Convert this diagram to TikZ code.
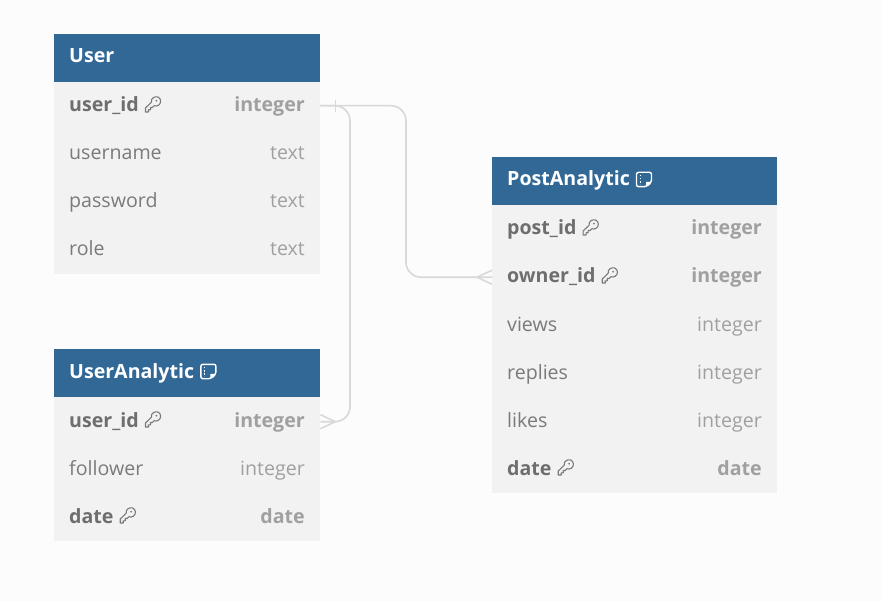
\documentclass[tikz,border=0pt]{standalone}
\usepackage{fontspec}
\setmainfont{Open Sans}
\usetikzlibrary{positioning}
\definecolor{hdr}{HTML}{316896}
\definecolor{rowbg}{HTML}{F2F2F2}
\definecolor{pagebg}{HTML}{FCFCFC}
\definecolor{namec}{HTML}{7A7A7A}
\definecolor{typec}{HTML}{A0A0A0}
\definecolor{linkc}{HTML}{D8D8D8}
\tikzset{
  x=1pt,y=-1pt,
  hbox/.style={fill=hdr,anchor=north west,inner sep=0pt,minimum height=48pt},
  rowbox/.style={fill=rowbg,anchor=north west,inner sep=0pt,minimum height=48pt},
  htext/.style={anchor=base west,inner sep=0pt,text=white,font=\fontsize{19.6pt}{22pt}\selectfont\bfseries},
  ntext/.style={anchor=base west,inner sep=0pt,text=namec,font=\fontsize{19.6pt}{22pt}\selectfont},
  btext/.style={ntext,text=namec!90!black,font=\fontsize{19.6pt}{22pt}\selectfont\bfseries},
  ttext/.style={anchor=base east,inner sep=0pt,text=typec,font=\fontsize{19.6pt}{22pt}\selectfont},
  ttextb/.style={ttext,font=\fontsize{19.6pt}{22pt}\selectfont\bfseries},
  link/.style={draw=linkc,line width=1.6pt,rounded corners=15pt},
  tick/.style={draw=linkc,line width=1.6pt},
  keyicon/.pic={
    \draw[namec,line width=1.1pt,line join=round]
      (-7.5,7.5) -- (-7.5,3.5) -- (-1.6,-2.2)
      .. controls (-2.2,-6.5) and (2,-8.5) .. (5,-7.5)
      .. controls (8.5,-6) and (8.5,-1) .. (5.5,0.8)
      .. controls (4,1.6) and (2.6,1.8) .. (1.2,1.2)
      -- (-0.5,3) -- (-2.5,3) -- (-2.5,5.3) -- (-4.5,5.3) -- (-4.5,7.5) -- cycle;
    \fill[namec] (3.4,-3.8) circle (1pt);
  },
  noteicon/.pic={
    \draw[white,line width=1.4pt,line join=round,rounded corners=2pt]
      (-7.5,-7.2) -- (7.5,-7.2) -- (7.5,2.8) -- (2.4,7.2) -- (-7.5,7.2) -- cycle;
    \fill[white] (7.2,2.4) -- (2,2.4) -- (2,7.2) -- cycle;
    \draw[white,line width=1.4pt,dash pattern=on 1.6pt off 1.6pt] (-3.8,-4.8) -- (-3.8,4.8);
  }
}
\newcommand{\tablehead}[6]{% name, x, y, width, title, extra
  \node[hbox,minimum width=#4pt] (#1) at (#2,#3) {};
  \node[htext] (#1t) at (#2+15,#3+29) {#5};
  #6
}
\newcommand{\tablerow}[7]{% name,x,y,width,nametext,typetext,keyflag
  \node[rowbox,minimum width=#4pt] (#1) at (#2,#3) {};
  \ifnum#7=1
    \node[btext] (#1n) at (#2+15,#3+30) {#5};
    \node[ttextb] (#1y) at (#2+#4-15,#3+30) {#6};
    \pic at ([xshift=14pt]#1n.base east |- #2,#3+22.5) {keyicon};
  \else
    \node[ntext] (#1n) at (#2+15,#3+30) {#5};
    \node[ttext] (#1y) at (#2+#4-15,#3+30) {#6};
  \fi
}
\begin{document}
\begin{tikzpicture}
\path[use as bounding box,fill=pagebg] (0,0) rectangle (882,601);

% User
\tablehead{user}{54}{34}{266}{User}{}
\tablerow{uid}{54}{82}{266}{user\_id}{integer}{1}
\tablerow{uname}{54}{130}{266}{username}{text}{0}
\tablerow{upass}{54}{178}{266}{password}{text}{0}
\tablerow{urole}{54}{226}{266}{role}{text}{0}

% UserAnalytic
\tablehead{ua}{54}{349}{266}{UserAnalytic}{\pic at ([xshift=14pt]uat.base east |- 0,371.5) {noteicon};}
\tablerow{uauid}{54}{397}{266}{user\_id}{integer}{1}
\tablerow{uafol}{54}{445}{266}{follower}{integer}{0}
\tablerow{uadate}{54}{493}{266}{date}{date}{1}

% PostAnalytic
\tablehead{pa}{492}{157}{285}{PostAnalytic}{\pic at ([xshift=14pt]pat.base east |- 0,179.5) {noteicon};}
\tablerow{pid}{492}{205}{285}{post\_id}{integer}{1}
\tablerow{poid}{492}{253}{285}{owner\_id}{integer}{1}
\tablerow{pview}{492}{301}{285}{views}{integer}{0}
\tablerow{prep}{492}{349}{285}{replies}{integer}{0}
\tablerow{plike}{492}{397}{285}{likes}{integer}{0}
\tablerow{pdate}{492}{445}{285}{date}{date}{1}

% connectors
\coordinate (uidE) at ([yshift=0.5pt]uid.east);
\coordinate (uaE) at ([yshift=-0.5pt]uauid.east);
\coordinate (poW) at (poid.west);
\coordinate (busA) at (406,0);
\coordinate (busB) at (350,0);
\draw[link] (uidE) -- (busA |- uidE) -- (busA |- poW) -- (poW);
\draw[link] (uidE) -- (busB |- uidE) -- (busB |- uaE) -- (uaE);
% one-side tick
\draw[tick] ([xshift=15pt,yshift=-6pt]uidE) -- ([xshift=15pt,yshift=6pt]uidE);
% crow's feet
\draw[tick] ([yshift=-7pt]uaE) -- ([xshift=15pt]uaE) -- ([yshift=7pt]uaE);
\draw[tick] ([yshift=-7pt]poW) -- ([xshift=-15pt]poW) -- ([yshift=7pt]poW);
\end{tikzpicture}
\end{document}
